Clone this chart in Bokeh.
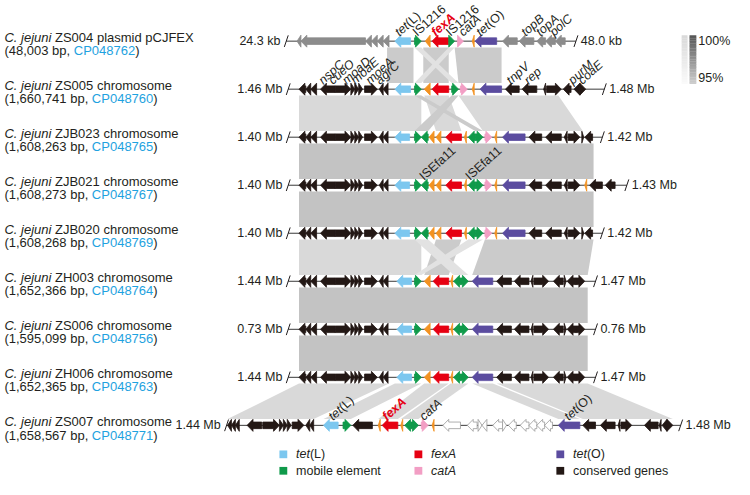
import math
from bokeh.plotting import figure
from bokeh.models import Range1d
from bokeh.core.properties import value
from bokeh.embed import file_html
from bokeh.resources import INLINE

# ---------------- data ----------------
STRAINS = ["ZS004 plasmid pCJFEX", "ZS005 chromosome", "ZJB023 chromosome", "ZJB021 chromosome",
           "ZJB020 chromosome", "ZH003 chromosome", "ZS006 chromosome", "ZH006 chromosome", "ZS007 chromosome"]
SIZES_BP = ["48,003", "1,660,741", "1,608,263", "1,608,273", "1,608,268", "1,652,366", "1,595,099",
            "1,652,365", "1,658,567"]
ACCESSIONS = ["CP048762", "CP048760", "CP048765", "CP048767", "CP048769", "CP048764", "CP048756",
              "CP048763", "CP048771"]
START_LABELS = ["24.3 kb", "1.46 Mb", "1.40 Mb", "1.40 Mb", "1.40 Mb", "1.44 Mb", "0.73 Mb", "1.44 Mb", "1.44 Mb"]
END_LABELS = ["48.0 kb", "1.48 Mb", "1.42 Mb", "1.43 Mb", "1.42 Mb", "1.47 Mb", "0.76 Mb", "1.47 Mb", "1.48 Mb"]

# track extents in alignment coordinates (units of 0.1 kb in the shared frame)
TRACK_START = [292, 294, 294, 294, 294, 294, 294, 294, 231]
TRACK_END = [588, 617, 615, 640, 615, 608, 608, 608, 695]

# genes: (start, end, strand, kind)
GENES_ZS004 = [(303, 307, -1, "plas"), (307, 373, -1, "plas"), (373, 379, -1, "plas"), (379, 385, -1, "plas"),
               (385, 391, -1, "plas"), (391, 397, -1, "plas"),
               (403, 419, -1, "tetL"), (423, 430, 1, "mob"), (434, 439, -1, "orf"), (441, 458, -1, "fexA"),
               (458, 464, 1, "mob"), (467, 473, 1, "catA"), (482, 484, -1, "orf"), (485, 507, -1, "tetO"),
               (513, 528, -1, "plas"), (530, 545, -1, "plas"), (548, 557, -1, "plas"), (557, 567, -1, "plas"),
               (567, 577, -1, "plas")]
CHR_LEFT = [(305, 312, -1, "cons"), (312, 317, -1, "cons"), (317, 323, -1, "cons"), (327, 342, -1, "cons"),
            (342, 358, 1, "cons"), (358, 362, 1, "cons"), (362, 366, 1, "cons"), (366, 370, 1, "cons"),
            (372, 385, 1, "cons"), (387, 391, -1, "cons"), (391, 396, -1, "cons")]
GENES_ZS005 = CHR_LEFT + [(403, 419, -1, "tetL"), (423, 430, 1, "mob"), (433, 439, -1, "orf"),
                          (441, 458, -1, "fexA"), (461, 468, 1, "mob"), (470, 477, 1, "catA"),
                          (482, 484, -1, "orf"), (490, 512, -1, "tetO"), (516, 530, -1, "cons"),
                          (533, 548, -1, "cons"), (555, 557, -1, "cons"), (558, 573, 1, "cons"),
                          (575, 583, -1, "cons"), (586, 592, -1, "cons"), (592, 598, 1, "cons")]
ZJB_CORE = CHR_LEFT + [(403, 418, -1, "tetL"), (423, 430, 1, "mob"), (430, 437, -1, "mob"),
                       (438, 443, -1, "orf"), (445, 450, -1, "orf"), (455, 471, -1, "fexA"),
                       (474, 476, -1, "orf"), (478, 485, -1, "mob"), (485, 493, 1, "mob"),
                       (495, 502, 1, "catA"), (505, 507, -1, "orf"), (513, 536, -1, "tetO"),
                       (540, 553, -1, "cons"), (557, 573, -1, "cons"), (576, 579, -1, "cons"),
                       (580, 592, 1, "cons")]
GENES_ZJB023 = ZJB_CORE + [(594, 596, 1, "cons"), (597, 605, -1, "cons")]
GENES_ZJB021 = ZJB_CORE + [(597, 599, -1, "orf"), (602, 615, -1, "cons"), (618, 628, -1, "cons")]
GENES_ZJB020 = ZJB_CORE + [(594, 596, 1, "cons"), (597, 605, -1, "cons")]
ZH_CORE = CHR_LEFT + [(405, 420, -1, "tetL"), (423, 430, 1, "mob"), (433, 439, -1, "orf"),
                      (442, 458, -1, "fexA"), (460, 462, -1, "orf"), (463, 470, -1, "mob"),
                      (470, 478, 1, "mob"), (482, 503, -1, "tetO"), (507, 522, -1, "cons"),
                      (525, 540, -1, "cons"), (542, 544, -1, "cons"), (545, 560, 1, "cons"),
                      (565, 575, -1, "cons"), (576, 578, 1, "cons"), (579, 588, -1, "cons"),
                      (588, 597, 1, "cons")]
GENES_ZH003 = ZH_CORE
GENES_ZS006 = ZH_CORE
GENES_ZH006 = ZH_CORE
GENES_ZS007 = [(232, 236, -1, "cons"), (236, 240, -1, "cons"), (240, 244, -1, "cons"), (252, 267, -1, "cons"),
               (268, 285, 1, "cons"), (285, 289, 1, "cons"), (289, 293, 1, "cons"), (293, 297, 1, "cons"),
               (298, 310, 1, "cons"), (312, 316, -1, "cons"), (316, 320, -1, "cons"),
               (330, 345, -1, "tetL"), (350, 358, 1, "mob"), (360, 380, -1, "cons"), (386, 388, -1, "orf"),
               (390, 406, -1, "fexA"), (409, 411, -1, "orf"), (413, 419, -1, "mob"), (419, 427, 1, "mob"),
               (430, 437, 1, "catA"), (441, 443, -1, "orf"),
               (452, 470, -1, "unk"), (477, 487, -1, "unk"), (488, 492, 1, "unk"), (492, 497, -1, "unk"),
               (503, 513, -1, "unk"), (513, 517, 1, "unk"), (519, 527, -1, "unk"), (531, 540, -1, "unk"),
               (540, 548, -1, "unk"), (548, 556, -1, "unk"), (556, 564, -1, "unk"),
               (570, 592, -1, "tetO"), (595, 608, -1, "cons"), (613, 628, -1, "cons"), (631, 633, -1, "cons"),
               (634, 645, 1, "cons"), (658, 672, -1, "cons"), (673, 675, -1, "cons"), (676, 681, -1, "cons"),
               (681, 687, 1, "cons")]
GENES = [GENES_ZS004, GENES_ZS005, GENES_ZJB023, GENES_ZJB021, GENES_ZJB020, GENES_ZH003, GENES_ZS006,
         GENES_ZH006, GENES_ZS007]

# BLASTn links between consecutive tracks: (upper row, up_start, up_end, low_start, low_end, identity class)
LINKS = [
    (0, 395, 422, 395, 422, "mid"), (0, 432, 458, 432, 458, "mid"), (0, 464, 512, 468, 512, "mid"),
    (0, 423, 430, 461, 468, "inv"), (0, 458, 464, 423, 430, "inv"),
    (1, 305, 430, 305, 430, "low"), (1, 433, 458, 445, 471, "low"), (1, 468, 570, 493, 595, "low"),
    (1, 423, 430, 485, 493, "mid"), (1, 461, 468, 423, 437, "mid"),
    (2, 305, 606, 305, 606, "high"),
    (3, 305, 606, 305, 606, "high"),
    (4, 305, 430, 305, 430, "low"), (4, 445, 471, 433, 458, "mid"), (4, 495, 606, 482, 600, "mid"),
    (4, 423, 437, 463, 478, "inv"), (4, 478, 493, 423, 430, "inv"),
    (5, 305, 600, 305, 600, "high"),
    (6, 305, 600, 305, 600, "high"),
    (7, 305, 397, 232, 320, "low"), (7, 403, 430, 330, 358, "low"), (7, 433, 458, 386, 406, "low"),
    (7, 460, 478, 409, 427, "low"), (7, 482, 503, 570, 592, "low"), (7, 507, 600, 595, 687, "low"),
]

# gene name labels: (row, x, segments)
GENE_LABELS = [
    (0, 405, [("tet", "italic"), ("(L)", "normal")]), (0, 423, [("IS1216", "normal")]),
    (0, 442, [("fexA", "bold italic")]), (0, 457, [("IS1216", "normal")]), (0, 470, [("catA", "italic")]),
    (0, 488, [("tet", "italic"), ("(O)", "normal")]), (0, 534, [("topB", "italic")]),
    (0, 549, [("topA", "italic")]), (0, 563, [("polC", "italic")]),
    (1, 327, [("nspC", "italic")]), (1, 337, [("cueO", "italic")]), (1, 351, [("moaD", "italic")]),
    (1, 360, [("moaE", "italic")]), (1, 375, [("moeA", "italic")]), (1, 385, [("agrC", "italic")]),
    (1, 519, [("tnpV", "italic")]), (1, 537, [("rep", "italic")]), (1, 582, [("purM", "italic")]),
    (1, 592, [("coaE", "italic")]),
    (3, 430, [("ISEfa11", "normal")]), (3, 477, [("ISEfa11", "normal")]),
    (8, 337, [("tet", "italic"), ("(L)", "normal")]), (8, 392, [("fexA", "bold italic")]),
    (8, 430, [("catA", "italic")]), (8, 578, [("tet", "italic"), ("(O)", "normal")]),
]

LEGEND_ITEMS = [("tetL", [("tet", "italic"), ("(L)", "normal")]), ("mob", [("mobile element", "normal")]),
                ("fexA", [("fexA", "italic")]), ("catA", [("catA", "italic")]),
                ("tetO", [("tet", "italic"), ("(O)", "normal")]), ("cons", [("conserved genes", "normal")])]
IDENTITY_TICKS = ["100%", "95%"]

# ---------------- style ----------------
FONT = "Liberation Sans"
TXT = "#231f20"
COLORS = {"tetL": "#7cc7ef", "mob": "#0f9a4a", "fexA": "#e60012", "catA": "#f29ec4", "tetO": "#5b4c9f",
          "cons": "#231815", "orf": "#f39221", "plas": "#8c8c8c", "unk": "#ffffff"}
LINK_COLORS = {"high": "#c3c3c3", "mid": "#cbcbcb", "low": "#d9d9d9", "inv": "#e2e2e2"}
ACC_COLOR = "#1ea2e0"

W, H = 734, 479
X0, X1, Y0, Y1 = 0, 750, 0, 495
SX, SY = W / (X1 - X0), H / (Y1 - Y0)
ROW_Y = [42 + 49.63 * i for i in range(9)]
ANG = math.radians(42)

AW = {' ': 278, '(': 333, ')': 333, ',': 278, '.': 278, '/': 278, '%': 889}
for ch in "0123456789":
    AW[ch] = 556
AW.update({'A': 667, 'B': 667, 'C': 722, 'D': 722, 'E': 667, 'F': 611, 'G': 778, 'H': 722, 'I': 278, 'J': 500,
           'K': 667, 'L': 556, 'M': 833, 'N': 722, 'O': 778, 'P': 667, 'Q': 778, 'R': 722, 'S': 667, 'T': 611,
           'U': 722, 'V': 667, 'W': 944, 'X': 667, 'Y': 667, 'Z': 611, 'a': 556, 'b': 556, 'c': 500, 'd': 556,
           'e': 556, 'f': 278, 'g': 556, 'h': 556, 'i': 222, 'j': 222, 'k': 500, 'l': 222, 'm': 833, 'n': 556,
           'o': 556, 'p': 556, 'q': 556, 'r': 333, 's': 500, 't': 278, 'u': 556, 'v': 500, 'w': 722, 'x': 500,
           'y': 500, 'z': 500})


def tw(s, size):
    return sum(AW.get(c, 556) for c in s) * size / 1000.0


p = figure(width=W, height=H, x_range=Range1d(X0, X1), y_range=Range1d(Y1, Y0),
           output_backend="svg", toolbar_location=None, min_border=0)
p.axis.visible = False
p.grid.visible = False
p.outline_line_color = None
p.background_fill_color = "white"


def put(x, y, txt, style="normal", color=TXT, size=12.5, angle=0.0, align="left", baseline="middle"):
    p.text(x=[x], y=[y], text=[txt], text_font=value(FONT), text_font_size=f"{size}px",
           text_font_style=style, text_color=color, angle=angle, text_align=align, text_baseline=baseline)


def put_segs(x, y, segs, size=12.5, angle=0.0, color=TXT, baseline="middle"):
    for seg in segs:
        txt, style = seg[0], seg[1]
        col = seg[2] if len(seg) > 2 else color
        lead = len(txt) - len(txt.lstrip(" "))
        if lead:
            w = tw(" " * lead, size)
            x += w * math.cos(angle) / SX
            y -= w * math.sin(angle) / SY
            txt = txt.lstrip(" ")
        put(x, y, txt, style, col, size, angle, "left", baseline)
        w = tw(txt, size)
        x += w * math.cos(angle) / SX
        y -= w * math.sin(angle) / SY


# ---------------- links ----------------
BAND = 6.5
lx, ly, lc = [], [], []
for r, a0, a1, b0, b1, cls in LINKS:
    yt, yb = ROW_Y[r] + BAND, ROW_Y[r + 1] - BAND
    lx.append([a0, a1, b1, b0])
    ly.append([yt, yt, yb, yb])
    lc.append(LINK_COLORS[cls])
rank = {"#d9d9d9": 0, "#c3c3c3": 1, "#cbcbcb": 2, "#e2e2e2": 3}
order = sorted(range(len(lc)), key=lambda i: rank[lc[i]])
p.patches([lx[i] for i in order], [ly[i] for i in order], fill_color=[lc[i] for i in order],
          line_color=None)

# ---------------- tracks ----------------
for r in range(9):
    y = ROW_Y[r]
    p.segment(x0=[TRACK_START[r]], y0=[y], x1=[TRACK_END[r]], y1=[y], line_color="#3a3a3a", line_width=1)
    p.segment(x0=[TRACK_START[r] - 2, TRACK_END[r] - 2], y0=[y + 6, y + 6],
              x1=[TRACK_START[r] + 2, TRACK_END[r] + 2], y1=[y - 6, y - 6], line_color="#231f20", line_width=1)
    put(TRACK_START[r] - 6, y, START_LABELS[r], align="right")
    put(TRACK_END[r] + 5, y, END_LABELS[r])

BH, HH, HL = 3.4, 6.2, 6.0


def arrow(a, b, s, yc):
    L = b - a
    h = min(HL, L)
    if s > 0:
        if h >= L:
            return [a, b, a], [yc - HH, yc, yc + HH]
        return ([a, b - h, b - h, b, b - h, b - h, a],
                [yc - BH, yc - BH, yc - HH, yc, yc + HH, yc + BH, yc + BH])
    if h >= L:
        return [b, a, b], [yc - HH, yc, yc + HH]
    return ([b, a + h, a + h, a, a + h, a + h, b],
            [yc - BH, yc - BH, yc - HH, yc, yc + HH, yc + BH, yc + BH])


gx, gy, gf, gl = [], [], [], []
for r, genes in enumerate(GENES):
    for a, b, s, k in genes:
        xs, ys = arrow(a, b, s, ROW_Y[r])
        gx.append(xs)
        gy.append(ys)
        gf.append(COLORS[k])
        gl.append("#9a9a9a" if k == "unk" else COLORS[k])
p.patches(gx, gy, fill_color=gf, line_color=gl, line_width=0.8)

# ---------------- gene labels ----------------
for r, x, segs in GENE_LABELS:
    col = COLORS["fexA"] if segs[0][0] == "fexA" else TXT
    put_segs(x, ROW_Y[r] - 7.5, segs, size=12.5, angle=ANG, color=col, baseline="alphabetic")

# ---------------- strain labels ----------------
for r in range(9):
    y = ROW_Y[r]
    put_segs(4, y - 4, [("C. jejuni", "italic"), (" " + STRAINS[r], "normal")], size=13)
    put_segs(4, y + 10, [("(" + SIZES_BP[r] + " bp,", "normal"), (" " + ACCESSIONS[r], "normal", ACC_COLOR),
                         (")", "normal")], size=13)

# ---------------- gene legend ----------------
LEG_X = [285, 285, 423, 423, 568, 568]
LEG_Y = [469, 486, 469, 486, 469, 486]
for (k, segs), x, y in zip(LEGEND_ITEMS, LEG_X, LEG_Y):
    p.quad(left=[x], right=[x + 8], top=[y - 4], bottom=[y + 4], fill_color=COLORS[k], line_color=None)
    put_segs(x + 17, y, segs, size=12.5)

# ---------------- identity scale ----------------
N = 30
y0, y1 = 36, 86
for i in range(N):
    t = i / (N - 1)
    ya = y0 + (y1 - y0) * i / N
    yb = y0 + (y1 - y0) * (i + 1) / N
    g1 = int(218 + (250 - 218) * t)
    g2 = int(88 + (205 - 88) * t)
    p.quad(left=[696], right=[702], top=[ya], bottom=[yb + 0.3], fill_color=f"#{g1:02x}{g1:02x}{g1:02x}",
           line_color=None)
    p.quad(left=[704], right=[711], top=[ya], bottom=[yb + 0.3], fill_color=f"#{g2:02x}{g2:02x}{g2:02x}",
           line_color=None)
put(713, 42, IDENTITY_TICKS[0], size=12.5)
put(713, 80, IDENTITY_TICKS[1], size=12.5)

open("out.html", "w").write(file_html(p, INLINE))
